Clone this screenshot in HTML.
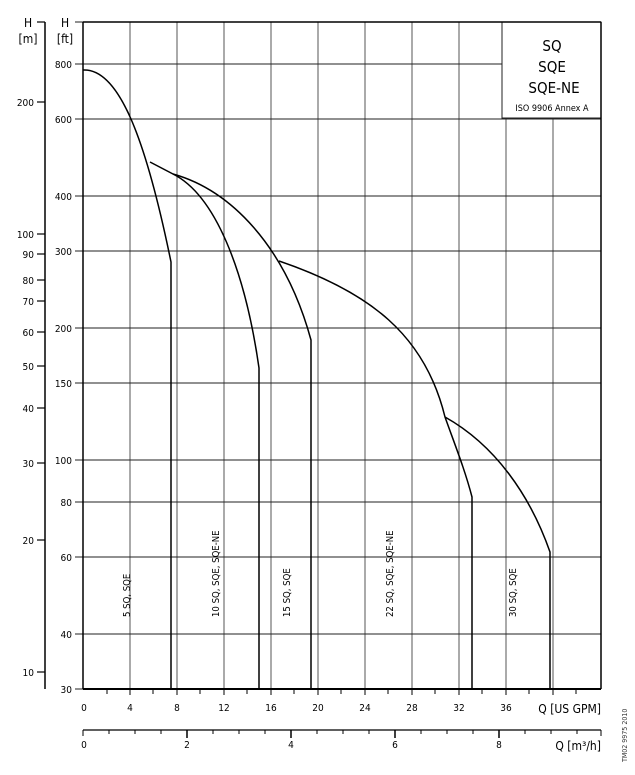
<!DOCTYPE html>
<html><head><style>body{margin:0;background:#fff}svg{display:block}</style></head><body>
<svg width="635" height="775" viewBox="0 0 635 775" xmlns="http://www.w3.org/2000/svg" font-family="'DejaVu Sans Condensed','Liberation Sans',sans-serif" fill="#000">
<g stroke="#555" stroke-width="1">
<line x1="130" y1="22" x2="130" y2="689"/><line x1="177" y1="22" x2="177" y2="689"/><line x1="224" y1="22" x2="224" y2="689"/><line x1="271" y1="22" x2="271" y2="689"/><line x1="318" y1="22" x2="318" y2="689"/><line x1="365" y1="22" x2="365" y2="689"/><line x1="412" y1="22" x2="412" y2="689"/><line x1="459" y1="22" x2="459" y2="689"/><line x1="506" y1="118" x2="506" y2="689"/><line x1="553" y1="118" x2="553" y2="689"/>
</g>
<g stroke="#222" stroke-width="1">
<line x1="83" y1="64" x2="502" y2="64"/><line x1="83" y1="119" x2="601" y2="119"/><line x1="83" y1="196" x2="601" y2="196"/><line x1="83" y1="251" x2="601" y2="251"/><line x1="83" y1="328" x2="601" y2="328"/><line x1="83" y1="383" x2="601" y2="383"/><line x1="83" y1="460" x2="601" y2="460"/><line x1="83" y1="502" x2="601" y2="502"/><line x1="83" y1="557" x2="601" y2="557"/><line x1="83" y1="634" x2="601" y2="634"/>
<line x1="75" y1="64" x2="83" y2="64"/><line x1="75" y1="119" x2="83" y2="119"/><line x1="75" y1="196" x2="83" y2="196"/><line x1="75" y1="251" x2="83" y2="251"/><line x1="75" y1="328" x2="83" y2="328"/><line x1="75" y1="383" x2="83" y2="383"/><line x1="75" y1="460" x2="83" y2="460"/><line x1="75" y1="502" x2="83" y2="502"/><line x1="75" y1="557" x2="83" y2="557"/><line x1="75" y1="634" x2="83" y2="634"/><line x1="75" y1="689" x2="83" y2="689"/><line x1="75" y1="22" x2="83" y2="22"/>
</g>
<rect x="502" y="22" width="99" height="96" fill="#fff" stroke="#222"/>
<g stroke="#000" stroke-width="1.5" fill="none">
<line x1="83" y1="22" x2="601" y2="22"/>
<line x1="83" y1="22" x2="83" y2="689"/>
<line x1="601" y1="22" x2="601" y2="689"/>
<line x1="83" y1="689" x2="601" y2="689" stroke-width="2"/>
<line x1="45" y1="22" x2="45" y2="689"/>
<path d="M83,70 C118,68 145,135 171,262 L171,689"/>
<path d="M150,162 L173,174 C215,195 245,270 259,368 L259,689"/>
<path d="M173,174 C230,190 285,245 311,340 L311,689"/>
<path d="M279,261 C370,292 425,335 445,417 C455,445 465,470 472,497 L472,689"/>
<path d="M445,417 C495,445 530,495 550,552 L550,689"/>
<line x1="83" y1="730" x2="601" y2="730" stroke-width="1.2"/>
</g>
<g stroke="#000" stroke-width="1.2">
<line x1="37" y1="22" x2="45" y2="22"/><line x1="37" y1="102" x2="45" y2="102"/><line x1="37" y1="234" x2="45" y2="234"/><line x1="37" y1="254" x2="45" y2="254"/><line x1="37" y1="280" x2="45" y2="280"/><line x1="37" y1="301" x2="45" y2="301"/><line x1="37" y1="332" x2="45" y2="332"/><line x1="37" y1="366" x2="45" y2="366"/><line x1="37" y1="408" x2="45" y2="408"/><line x1="37" y1="463" x2="45" y2="463"/><line x1="37" y1="540" x2="45" y2="540"/><line x1="37" y1="672" x2="45" y2="672"/>
</g>
<g stroke="#000" stroke-width="1">
<line x1="107" y1="689" x2="107" y2="694"/><line x1="130" y1="689" x2="130" y2="695"/><line x1="153" y1="689" x2="153" y2="694"/><line x1="177" y1="689" x2="177" y2="695"/><line x1="200" y1="689" x2="200" y2="694"/><line x1="224" y1="689" x2="224" y2="695"/><line x1="247" y1="689" x2="247" y2="694"/><line x1="271" y1="689" x2="271" y2="695"/><line x1="294" y1="689" x2="294" y2="694"/><line x1="318" y1="689" x2="318" y2="695"/><line x1="341" y1="689" x2="341" y2="694"/><line x1="365" y1="689" x2="365" y2="695"/><line x1="388" y1="689" x2="388" y2="694"/><line x1="412" y1="689" x2="412" y2="695"/><line x1="435" y1="689" x2="435" y2="694"/><line x1="459" y1="689" x2="459" y2="695"/><line x1="482" y1="689" x2="482" y2="694"/><line x1="506" y1="689" x2="506" y2="695"/><line x1="529" y1="689" x2="529" y2="694"/><line x1="553" y1="689" x2="553" y2="695"/><line x1="576" y1="689" x2="576" y2="694"/>
<line x1="83" y1="730" x2="83" y2="736"/><line x1="109" y1="730" x2="109" y2="734"/><line x1="135" y1="730" x2="135" y2="734"/><line x1="161" y1="730" x2="161" y2="734"/><line x1="187" y1="730" x2="187" y2="738" stroke-width="1.5"/><line x1="213" y1="730" x2="213" y2="734"/><line x1="239" y1="730" x2="239" y2="734"/><line x1="265" y1="730" x2="265" y2="734"/><line x1="291" y1="730" x2="291" y2="738" stroke-width="1.5"/><line x1="317" y1="730" x2="317" y2="734"/><line x1="343" y1="730" x2="343" y2="734"/><line x1="369" y1="730" x2="369" y2="734"/><line x1="395" y1="730" x2="395" y2="738" stroke-width="1.5"/><line x1="421" y1="730" x2="421" y2="734"/><line x1="447" y1="730" x2="447" y2="734"/><line x1="473" y1="730" x2="473" y2="734"/><line x1="499" y1="730" x2="499" y2="738" stroke-width="1.5"/><line x1="525" y1="730" x2="525" y2="734"/><line x1="551" y1="730" x2="551" y2="734"/><line x1="577" y1="730" x2="577" y2="734"/><line x1="601" y1="730" x2="601" y2="736"/>
</g>
<g font-size="10" text-anchor="end">
<text x="72" y="68">800</text><text x="72" y="123">600</text><text x="72" y="200">400</text><text x="72" y="255">300</text><text x="72" y="332">200</text><text x="72" y="387">150</text><text x="72" y="464">100</text><text x="72" y="506">80</text><text x="72" y="561">60</text><text x="72" y="638">40</text><text x="72" y="693">30</text>
<text x="34" y="106">200</text><text x="34" y="238">100</text><text x="34" y="258">90</text><text x="34" y="284">80</text><text x="34" y="305">70</text><text x="34" y="336">60</text><text x="34" y="370">50</text><text x="34" y="412">40</text><text x="34" y="467">30</text><text x="34" y="544">20</text><text x="34" y="676">10</text>
</g>
<g font-size="12" text-anchor="middle"><text x="28" y="27">H</text><text x="28" y="43">[m]</text><text x="65" y="27">H</text><text x="65" y="43">[ft]</text></g>
<g font-size="10" text-anchor="middle">
<text x="84" y="711">0</text><text x="130" y="711">4</text><text x="177" y="711">8</text><text x="224" y="711">12</text><text x="271" y="711">16</text><text x="318" y="711">20</text><text x="365" y="711">24</text><text x="412" y="711">28</text><text x="459" y="711">32</text><text x="506" y="711">36</text>
<text x="84" y="748">0</text><text x="187" y="748">2</text><text x="291" y="748">4</text><text x="395" y="748">6</text><text x="499" y="748">8</text>
</g>
<text x="601" y="713" font-size="12" text-anchor="end">Q [US GPM]</text>
<text x="601" y="750" font-size="12" text-anchor="end">Q [m³/h]</text>
<g text-anchor="middle"><text x="552" y="51" font-size="15">SQ</text><text x="552" y="72" font-size="15">SQE</text><text x="554" y="93" font-size="15">SQE-NE</text><text x="552" y="111" font-size="9">ISO 9906 Annex A</text></g>
<g font-size="9.5">
<text transform="translate(130,617) rotate(-90)">5 SQ, SQE</text>
<text transform="translate(219,617) rotate(-90)">10 SQ, SQE, SQE-NE</text>
<text transform="translate(290,617) rotate(-90)">15 SQ, SQE</text>
<text transform="translate(393,617) rotate(-90)">22 SQ, SQE, SQE-NE</text>
<text transform="translate(516,617) rotate(-90)">30 SQ, SQE</text>
</g>
<text transform="translate(627,762) rotate(-90)" font-size="7" fill="#333">TM02 9975 2010</text>
</svg>
</body></html>
